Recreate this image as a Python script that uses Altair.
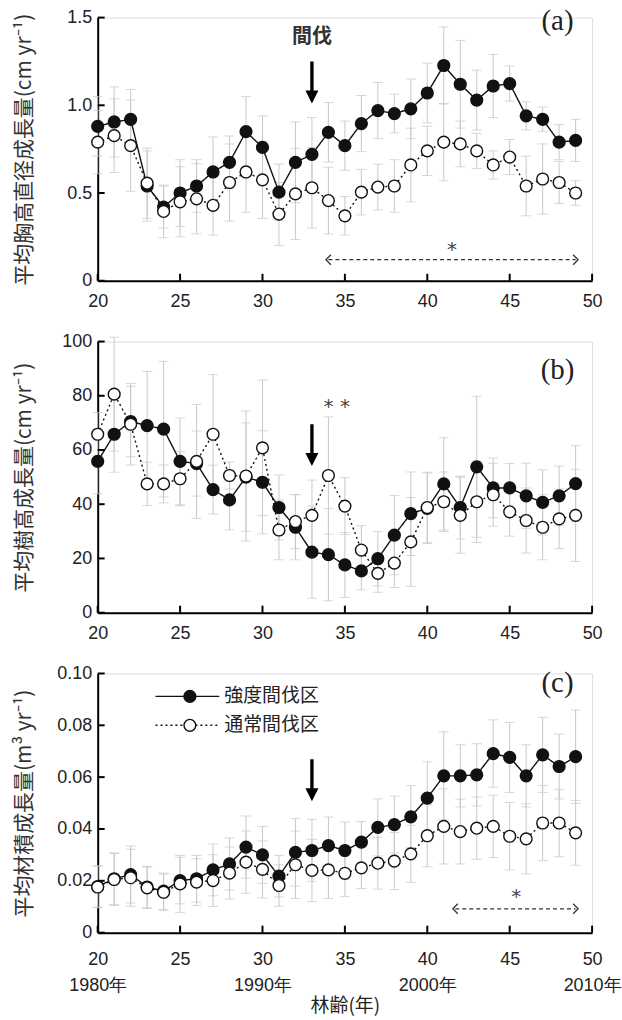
import altair as alt
import pandas as pd

# ---------------- data ----------------
ages = list(range(20, 50))
series_names = ["強度間伐区", "通常間伐区"]
line_keys = ["強度間伐区-line", "通常間伐区-line"]
x_ticks = [20, 25, 30, 35, 40, 45, 50]
year_ticks = [20, 30, 40, 50]
year_labels = ["1980年", "1990年", "2000年", "2010年"]

# (a) mean DBH growth (cm/yr)
a_heavy = [0.88, 0.905, 0.92, 0.54, 0.42, 0.50, 0.54, 0.62, 0.675, 0.85,
           0.76, 0.505, 0.675, 0.72, 0.846, 0.77, 0.896, 0.97, 0.953, 0.98,
           1.07, 1.227, 1.12, 1.03, 1.11, 1.124, 0.94, 0.92, 0.79, 0.80]
a_heavy_err = [0.17, 0.20, 0.17, 0.20, 0.12, 0.19, 0.15, 0.20, 0.15, 0.20,
               0.18, 0.16, 0.23, 0.21, 0.17, 0.14, 0.16, 0.16, 0.11, 0.17,
               0.17, 0.22, 0.25, 0.17, 0.18, 0.10, 0.08, 0.07, 0.10, 0.12]
a_normal = [0.79, 0.827, 0.77, 0.556, 0.395, 0.45, 0.467, 0.43, 0.56, 0.62,
            0.575, 0.38, 0.495, 0.53, 0.457, 0.37, 0.505, 0.534, 0.54, 0.66,
            0.74, 0.79, 0.78, 0.74, 0.66, 0.705, 0.54, 0.58, 0.56, 0.50]
a_normal_err = [0.18, 0.21, 0.26, 0.20, 0.15, 0.20, 0.20, 0.17, 0.22, 0.23,
                0.22, 0.18, 0.26, 0.23, 0.19, 0.11, 0.13, 0.13, 0.15, 0.21,
                0.14, 0.22, 0.13, 0.10, 0.08, 0.10, 0.17, 0.20, 0.12, 0.07]

# (b) mean height growth (cm/yr)
b_heavy = [55.8, 65.8, 70.5, 69.0, 67.7, 55.8, 55.0, 45.4, 41.6, 50.0,
           48.1, 38.8, 31.5, 22.3, 21.4, 17.6, 15.4, 19.9, 28.6, 36.5,
           38.5, 47.5, 38.8, 53.8, 46.0, 46.0, 43.1, 40.7, 43.1, 47.6]
b_heavy_err = [12, 14, 13, 20, 25, 16, 12, 9, 11, 20,
               19, 12, 12, 17, 17, 12, 7, 10, 14.6, 15.4,
               13, 17, 11.6, 26, 11, 9, 12, 12, 11, 14]
b_normal = [65.8, 80.6, 69.5, 47.5, 47.5, 49.4, 55.8, 65.8, 50.6, 50.4,
            60.8, 30.5, 33.6, 35.9, 50.6, 39.3, 23.1, 14.5, 18.3, 26.1,
            38.8, 40.9, 35.9, 40.9, 43.5, 37.2, 34.0, 31.5, 34.6, 35.9]
b_normal_err = [8, 21, 15, 8, 7, 10, 21, 22, 5, 24,
                25, 11, 10, 13, 21.6, 10.5, 9, 7, 9, 16.4,
                13, 11, 14, 15, 11.6, 9, 12, 12, 11, 17]

# (c) mean volume growth (m3/yr)
c_heavy = [0.0178, 0.0208, 0.0224, 0.0176, 0.0160, 0.0201, 0.0208, 0.0242, 0.0265, 0.0330,
           0.0300, 0.0218, 0.0310, 0.0317, 0.0336, 0.0317, 0.0349, 0.0406, 0.0417, 0.0447,
           0.0519, 0.0605, 0.0605, 0.0609, 0.0691, 0.0676, 0.0605, 0.0686, 0.0641, 0.0679]
c_heavy_err = [0.008, 0.010, 0.011, 0.008, 0.007, 0.009, 0.009, 0.010, 0.010, 0.012,
               0.011, 0.008, 0.013, 0.012, 0.011, 0.011, 0.008, 0.011, 0.011, 0.012,
               0.014, 0.017, 0.012, 0.012, 0.013, 0.0135, 0.012, 0.0145, 0.0125, 0.018]
c_normal = [0.0176, 0.0205, 0.0212, 0.0173, 0.0156, 0.0188, 0.0195, 0.0201, 0.0230, 0.0272,
            0.0244, 0.0182, 0.0262, 0.0240, 0.0242, 0.0229, 0.0250, 0.0268, 0.0276, 0.0304,
            0.0374, 0.0410, 0.0390, 0.0403, 0.0410, 0.0372, 0.0362, 0.0423, 0.0423, 0.0385]
c_normal_err = [0.008, 0.010, 0.011, 0.008, 0.007, 0.011, 0.009, 0.010, 0.010, 0.012,
                0.011, 0.008, 0.013, 0.012, 0.011, 0.009, 0.008, 0.010, 0.011, 0.011,
                0.012, 0.0145, 0.0125, 0.012, 0.012, 0.013, 0.0135, 0.0145, 0.013, 0.0125]

# annotations (data coordinates)
thinning_age = 33
arrow_values = [1.13, 61.8, 0.0588]
tag_labels = ["(a)", "(b)", "(c)"]
tag_ages = [47.9, 47.9, 47.9]
tag_values = [1.48, 89.5, 0.0965]
sig_a = {"from": 34.0, "to": 49.0, "value": 0.12, "star_ages": [41.5], "star_value": 0.175}
sig_b = {"star_ages": [34, 35], "star_value": 76}
sig_c = {"from": 41.7, "to": 49.0, "value": 0.0092, "star_ages": [45.4], "star_value": 0.0138}

# ---------------- style ----------------
NUM_FONT = "Liberation Sans"
JP_FONT = "Noto Sans CJK JP"
SERIF = "Liberation Serif"
W = 496
GRAY = "#c8c8c8"
ARROW = "M-0.08,-1L0.08,-1L0.08,0.38L0.31,0.38L0,1L-0.31,0.38L-0.08,0.38Z"
CHEV_L = "M0.5,-1L-0.5,0L0.5,1"
CHEV_R = "M-0.5,-1L0.5,0L-0.5,1"


def make_df(heavy, heavy_err, normal, normal_err):
    rows = []
    for name, key, vals, errs in [(series_names[0], line_keys[0], heavy, heavy_err),
                                  (series_names[1], line_keys[1], normal, normal_err)]:
        for a, v, e in zip(ages, vals, errs):
            rows.append({"age": a, "series": name, "series_l": key,
                         "value": v, "lo": v - e, "hi": v + e})
    return pd.DataFrame(rows)


def panel(df, ymax, yticks, height, ytitle, yfmt, idx, sig, legend=False, bottom=False):
    xs = alt.Scale(domain=[20, 50], nice=False, zero=False)
    ys = alt.Scale(domain=[0, ymax], nice=False)
    common_x = dict(values=x_ticks, ticks=False, grid=False, domainWidth=2,
                    domainColor="black", labelFont=NUM_FONT, labelFontSize=18,
                    labelColor="#222", labelFlush=False)
    if bottom:
        parts = [f"datum.value == {v} ? ['{v}', '{y}']" for v, y in zip(year_ticks, year_labels)]
        xexpr = " : ".join(parts) + " : datum.label"
        x_axis = alt.Axis(labelExpr=xexpr, labelLineHeight=26, labelPadding=18,
                          title="林齢(年)", titleFont=JP_FONT, titleFontSize=19,
                          titleFontWeight="normal", titleColor="#222", titlePadding=2,
                          **common_x)
    else:
        x_axis = alt.Axis(title=None, labelPadding=12, **common_x)
    if yfmt == "int":
        yexpr = "datum.label"
    else:
        yexpr = f"datum.value == 0 ? '0' : format(datum.value, '{yfmt}')"
    y_axis = alt.Axis(values=yticks, ticks=False, grid=False, domainWidth=2,
                      domainColor="black", labelFont=NUM_FONT, labelFontSize=18,
                      labelColor="#222", labelPadding=6, labelExpr=yexpr, labelFlush=False,
                      title=ytitle, titleFont=JP_FONT, titleFontSize=21,
                      titleFontWeight="normal", titleColor="#333", titleAngle=270,
                      titleX=-73, titleY=height / 2, titleAlign="center",
                      titleBaseline="middle")
    X = alt.X("age:Q", scale=xs, axis=x_axis)

    def Y(field):
        return alt.Y(f"{field}:Q", scale=ys, axis=y_axis)

    base = alt.Chart(df)
    err = base.mark_rule(color=GRAY, strokeWidth=1).encode(x=X, y=Y("lo"), y2="hi:Q")
    cap_lo = base.mark_tick(orient="horizontal", size=10, thickness=1, color=GRAY).encode(x=X, y=Y("lo"))
    cap_hi = base.mark_tick(orient="horizontal", size=10, thickness=1, color=GRAY).encode(x=X, y=Y("hi"))

    dash_kw = dict(scale=alt.Scale(domain=line_keys, range=[[1, 0], [2, 3]]))
    fill_kw = dict(scale=alt.Scale(domain=series_names, range=["#111111", "#ffffff"]))
    if legend:
        dash_kw["legend"] = alt.Legend(
            orient="none", legendX=57, legendY=13, title=None,
            symbolType="M-1,0H1", symbolSize=4096, symbolStrokeColor="#111",
            symbolStrokeWidth=1.4, labelExpr="''", clipHeight=20,
            rowPadding=9, padding=0, labelFontSize=19)
        fill_kw["legend"] = alt.Legend(
            orient="none", legendX=83, legendY=13, title=None,
            symbolType="circle", symbolSize=140, symbolStrokeColor="#111",
            symbolStrokeWidth=1.4, symbolOpacity=1, labelFont=JP_FONT,
            labelFontSize=19, labelColor="#222", labelOffset=25,
            clipHeight=20, rowPadding=9, padding=0)
    else:
        dash_kw["legend"] = None
        fill_kw["legend"] = None

    lines = base.mark_line(color="#111", strokeWidth=1.4).encode(
        x=X, y=Y("value"), strokeDash=alt.StrokeDash("series_l:N", **dash_kw))
    pts = base.mark_point(filled=True, size=140, stroke="#111", strokeWidth=1.4, opacity=1).encode(
        x=X, y=Y("value"), fill=alt.Fill("series:N", **fill_kw))

    xt = alt.Chart(pd.DataFrame({"age": x_ticks})).mark_rule(color="black", strokeWidth=2).encode(
        x=X, y=alt.value(height), y2=alt.value(height - 7))
    yt = alt.Chart(pd.DataFrame({"value": yticks})).mark_rule(color="black", strokeWidth=2).encode(
        y=Y("value"), x=alt.value(0), x2=alt.value(7))

    arrow = alt.Chart(pd.DataFrame({"age": [thinning_age], "value": [arrow_values[idx]]})).mark_point(
        shape=ARROW, size=1764, filled=True, color="black", opacity=1).encode(x=X, y=Y("value"))
    tag = alt.Chart(pd.DataFrame({"age": [tag_ages[idx]], "value": [tag_values[idx]],
                                  "t": [tag_labels[idx]]})).mark_text(
        font=SERIF, fontSize=29, color="#222").encode(x=X, y=Y("value"), text="t:N")
    stars = alt.Chart(pd.DataFrame({"age": sig["star_ages"],
                                    "value": [sig["star_value"]] * len(sig["star_ages"]),
                                    "t": ["*"] * len(sig["star_ages"])})).mark_text(
        font="DejaVu Sans", fontSize=20, color="#444444").encode(x=X, y=Y("value"), text="t:N")

    layers = [err, cap_lo, cap_hi, lines, pts, xt, yt, arrow, tag, stars]
    if "from" in sig:
        sdf = pd.DataFrame({"age": [sig["from"]], "age2": [sig["to"]], "value": [sig["value"]]})
        dash = alt.Chart(sdf).mark_rule(strokeDash=[4, 3], color="#333", strokeWidth=1.3).encode(
            x=X, x2="age2:Q", y=Y("value"))
        chl = alt.Chart(pd.DataFrame({"age": [sig["from"]], "value": [sig["value"]]})).mark_point(
            shape=CHEV_L, size=100, filled=False, color="#333", strokeWidth=1.3, opacity=1).encode(x=X, y=Y("value"))
        chr_ = alt.Chart(pd.DataFrame({"age": [sig["to"]], "value": [sig["value"]]})).mark_point(
            shape=CHEV_R, size=100, filled=False, color="#333", strokeWidth=1.3, opacity=1).encode(x=X, y=Y("value"))
        layers += [dash, chl, chr_]
    if idx == 0:
        lab = alt.Chart(pd.DataFrame({"age": [33.0], "value": [1.39], "t": ["間伐"]})).mark_text(
            font=JP_FONT, fontSize=20, fontWeight="bold", color="#333").encode(x=X, y=Y("value"), text="t:N")
        layers.append(lab)
    return alt.layer(*layers).properties(width=W, height=height)


pa = panel(make_df(a_heavy, a_heavy_err, a_normal, a_normal_err), 1.5, [0, 0.5, 1.0, 1.5], 264,
           "平均胸高直径成長量(cm yr⁻¹)", ".1f", 0, sig_a)
pb = panel(make_df(b_heavy, b_heavy_err, b_normal, b_normal_err), 100, [0, 20, 40, 60, 80, 100], 272,
           "平均樹高成長量(cm yr⁻¹)", "int", 1, sig_b)
pc = panel(make_df(c_heavy, c_heavy_err, c_normal, c_normal_err), 0.1, [0, 0.02, 0.04, 0.06, 0.08, 0.1], 260,
           "平均材積成長量(m³ yr⁻¹)", ".2f", 2, sig_c, legend=True, bottom=True)

chart = alt.vconcat(pa, pb, pc, spacing=61, bounds="flush").resolve_scale(
    fill="independent", strokeDash="independent").resolve_legend(
    fill="independent", strokeDash="independent").properties(
    padding={"left": 13, "top": 5, "right": 0, "bottom": 3}).configure_view(
    stroke="transparent").configure(background="white")

chart.save("out.html", embed_options={"renderer": "svg", "actions": False})
